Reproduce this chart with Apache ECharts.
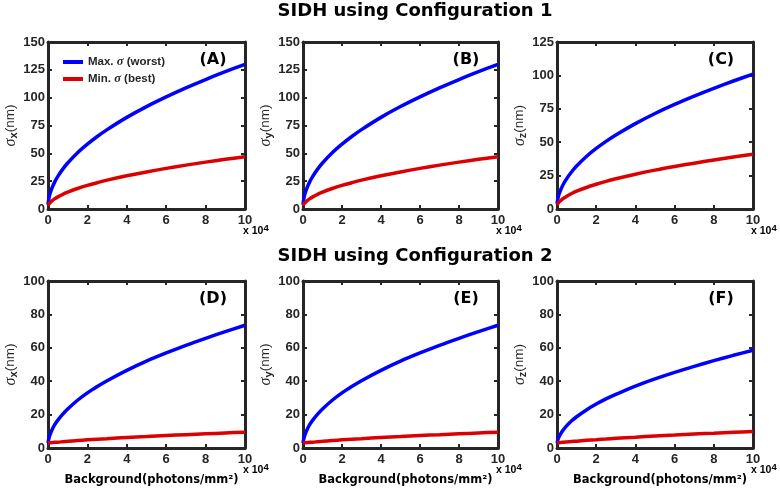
<!DOCTYPE html>
<html><head><meta charset="utf-8">
<script src="https://cdn.jsdelivr.net/npm/echarts/dist/echarts.min.js"></script>
<style>html,body{margin:0;padding:0;background:#fff}#c{width:780px;height:488px}</style>
</head><body><div id="c"></div><script>
// Background (x 10^4 photons/mm^2)
const bgX = [0,0.05,0.1,0.2,0.35,0.5,0.75,1,1.5,2,2.5,3,4,5,6,7,8,9,10];
// Configuration 1
const maxA = [4,10.0,13.6,18.8,24.6,29.3,35.8,41.3,50.5,58.2,65.1,71.3,82.3,92.0,100.7,108.8,116.3,123.3,130.0];
const minA = [3,4.5,5.6,7.3,9.3,10.9,13.2,15.1,18.4,21.2,23.6,25.9,29.8,33.3,36.5,39.4,42.1,44.6,47.0];
const maxB = [4,10.0,13.6,18.8,24.6,29.3,35.8,41.3,50.5,58.2,65.1,71.3,82.3,92.0,100.7,108.8,116.3,123.3,130.0];
const minB = [3,4.5,5.6,7.3,9.3,10.9,13.2,15.1,18.4,21.2,23.6,25.9,29.8,33.3,36.5,39.4,42.1,44.6,47.0];
const maxC = [4,8.2,10.9,14.8,19.3,22.9,27.9,32.2,39.3,45.3,50.6,55.4,63.9,71.5,78.3,84.5,90.3,95.8,101.0];
const minC = [3,4.2,5.1,6.5,8.2,9.6,11.6,13.3,16.1,18.5,20.7,22.6,26.0,29.1,31.8,34.3,36.7,38.9,41.0];
// Configuration 2
const maxD = [3,6.0,7.9,10.8,14.1,16.7,20.3,23.4,28.6,33.0,36.8,40.3,46.5,52.0,56.9,61.5,65.7,69.7,73.5];
const minD = [3.0,3.1,3.15,3.25,3.4,3.5,3.75,4.0,4.5,4.9,5.25,5.6,6.3,6.9,7.5,8.0,8.5,9.0,9.5];
const maxE = [3,6.0,7.9,10.8,14.1,16.7,20.3,23.4,28.6,33.0,36.8,40.3,46.5,52.0,56.9,61.5,65.7,69.7,73.5];
const minE = [3.0,3.1,3.15,3.25,3.4,3.5,3.75,4.0,4.5,4.9,5.25,5.6,6.3,6.9,7.5,8.0,8.5,9.0,9.5];
const maxF = [3,5.1,6.6,8.8,11.3,13.4,16.3,18.7,22.8,26.3,29.4,32.1,37.1,41.4,45.3,48.9,52.3,55.5,58.5];
const minF = [3.0,3.1,3.2,3.3,3.45,3.6,3.85,4.1,4.6,5.0,5.4,5.8,6.5,7.2,7.8,8.4,8.9,9.4,9.9];

const seriesNames = ['Max. σ (worst)', 'Min. σ (best)'];
const panelLabels = ['(A)','(B)','(C)','(D)','(E)','(F)'];
const axisSubs = ['x','y','z','x','y','z'];
const yMax = [150,150,125,100,100,100];
const yStep = [25,25,25,20,20,20];
const xMax = 10, xStep = 2;
const rowTitles = ['SIDH using Configuration 1','SIDH using Configuration 2'];
const xAxisTitle = 'Background(photons/mm²)';

const maxSets = [maxA,maxB,maxC,maxD,maxE,maxF];
const minSets = [minA,minB,minC,minD,minE,minF];

const grids = [
  {left:48, top:42, width:197, height:167},
  {left:303, top:42, width:195, height:167},
  {left:557, top:42, width:196, height:167},
  {left:48, top:281, width:197, height:167},
  {left:303, top:281, width:195, height:167},
  {left:557, top:281, width:196, height:167}
];
const INK = '#262626';
const lineAxis = {show:true, onZero:false, lineStyle:{color:INK, width:3}};
const tick = {show:true, inside:true, length:4, lineStyle:{color:INK, width:2}};
const tickFont = {fontFamily:'Liberation Sans', fontWeight:'bold', fontSize:13, color:INK};

const xAxis = [], yAxis = [], series = [], titles = [];
grids.forEach((g, i) => {
  g.show = false; g.outerBoundsMode = 'none'; g.containLabel = false;
  xAxis.push({type:'value', gridIndex:i, position:'bottom', min:0, max:xMax, interval:xStep,
    axisLine:lineAxis, axisTick:tick, splitLine:{show:false},
    axisLabel:Object.assign({margin:5}, tickFont)});
  xAxis.push({type:'value', gridIndex:i, position:'top', min:0, max:xMax, interval:xStep,
    axisLine:lineAxis, axisTick:tick, splitLine:{show:false}, axisLabel:{show:false}});
  yAxis.push({type:'value', gridIndex:i, position:'left', min:0, max:yMax[i], interval:yStep[i],
    axisLine:lineAxis, axisTick:tick, splitLine:{show:false},
    axisLabel:Object.assign({margin:3}, tickFont),
    name:'{s|σ}{sub|' + axisSubs[i] + '}{n|(nm)}', nameLocation:'middle', nameGap:27, nameRotate:90,
    nameTextStyle:{color:INK, rich:{
      s:{fontFamily:'Liberation Serif', fontStyle:'italic', fontSize:16, color:INK, lineHeight:18},
      sub:{fontFamily:'Liberation Sans', fontWeight:'bold', fontSize:11, color:INK, lineHeight:11, verticalAlign:'bottom'},
      n:{fontFamily:'Liberation Sans', fontSize:13.5, color:INK, lineHeight:18}
    }}});
  yAxis.push({type:'value', gridIndex:i, position:'right', min:0, max:yMax[i], interval:yStep[i],
    axisLine:lineAxis, axisTick:tick, splitLine:{show:false}, axisLabel:{show:false}});
  [[maxSets[i], '#0000ff', seriesNames[0]], [minSets[i], '#dd0000', seriesNames[1]]].forEach(([ys, col, nm]) => {
    series.push({type:'line', name:nm, xAxisIndex:2*i, yAxisIndex:2*i,
      data: bgX.map((x, k) => [x, ys[k]]), showSymbol:false, symbol:'none', smooth:0.3,
      lineStyle:{color:col, width:3.5}, itemStyle:{color:col}, z:3, animation:false});
  });
  titles.push({text:panelLabels[i], left:g.left + g.width - 32, top:g.top + 10, textAlign:'center', padding:0,
    textStyle:{fontFamily:'DejaVu Sans', fontWeight:'bold', fontSize:16, color:'#000'}});
  titles.push({text:'{a|x 10}{b|4}', left:g.left + g.width - 2, top:g.top + g.height + 14, padding:0,
    textStyle:{rich:{a:{fontFamily:'Liberation Sans', fontWeight:'bold', fontSize:10.5, color:'#000', lineHeight:14, verticalAlign:'bottom'},
                     b:{fontFamily:'Liberation Sans', fontWeight:'bold', fontSize:9.5, color:'#000', lineHeight:9, verticalAlign:'top'}}}});
  if (i >= 3) {
    titles.push({text:xAxisTitle, left:g.left + g.width/2 + 5, top:g.top + g.height + 26, textAlign:'center', padding:0,
      textStyle:{fontFamily:'DejaVu Sans', fontWeight:'bold', fontSize:11.5, color:'#000'}});
  }
});
titles.push({text:rowTitles[0], left:415, top:2, textAlign:'center', padding:0,
  textStyle:{fontFamily:'DejaVu Sans', fontWeight:'bold', fontSize:18, color:'#000'}});
titles.push({text:rowTitles[1], left:415, top:247, textAlign:'center', padding:0,
  textStyle:{fontFamily:'DejaVu Sans', fontWeight:'bold', fontSize:18, color:'#000'}});

const chart = echarts.init(document.getElementById('c'), null, {renderer:'canvas'});
chart.setOption({
  backgroundColor:'#fff',
  animation:false,
  title: titles,
  legend: {data:seriesNames, orient:'vertical', left:63, top:55, padding:0, itemGap:3,
    icon:'rect', itemWidth:20, itemHeight:4,
    formatter: n => n.replace('σ', '{s|σ}'),
    textStyle:{fontFamily:'Liberation Sans', fontWeight:'bold', fontSize:11.5, color:INK, lineHeight:14,
      rich:{s:{fontFamily:'Liberation Serif', fontStyle:'italic', fontSize:12.5, color:INK, lineHeight:14}}}},
  grid: grids, xAxis: xAxis, yAxis: yAxis, series: series
});
</script></body></html>
